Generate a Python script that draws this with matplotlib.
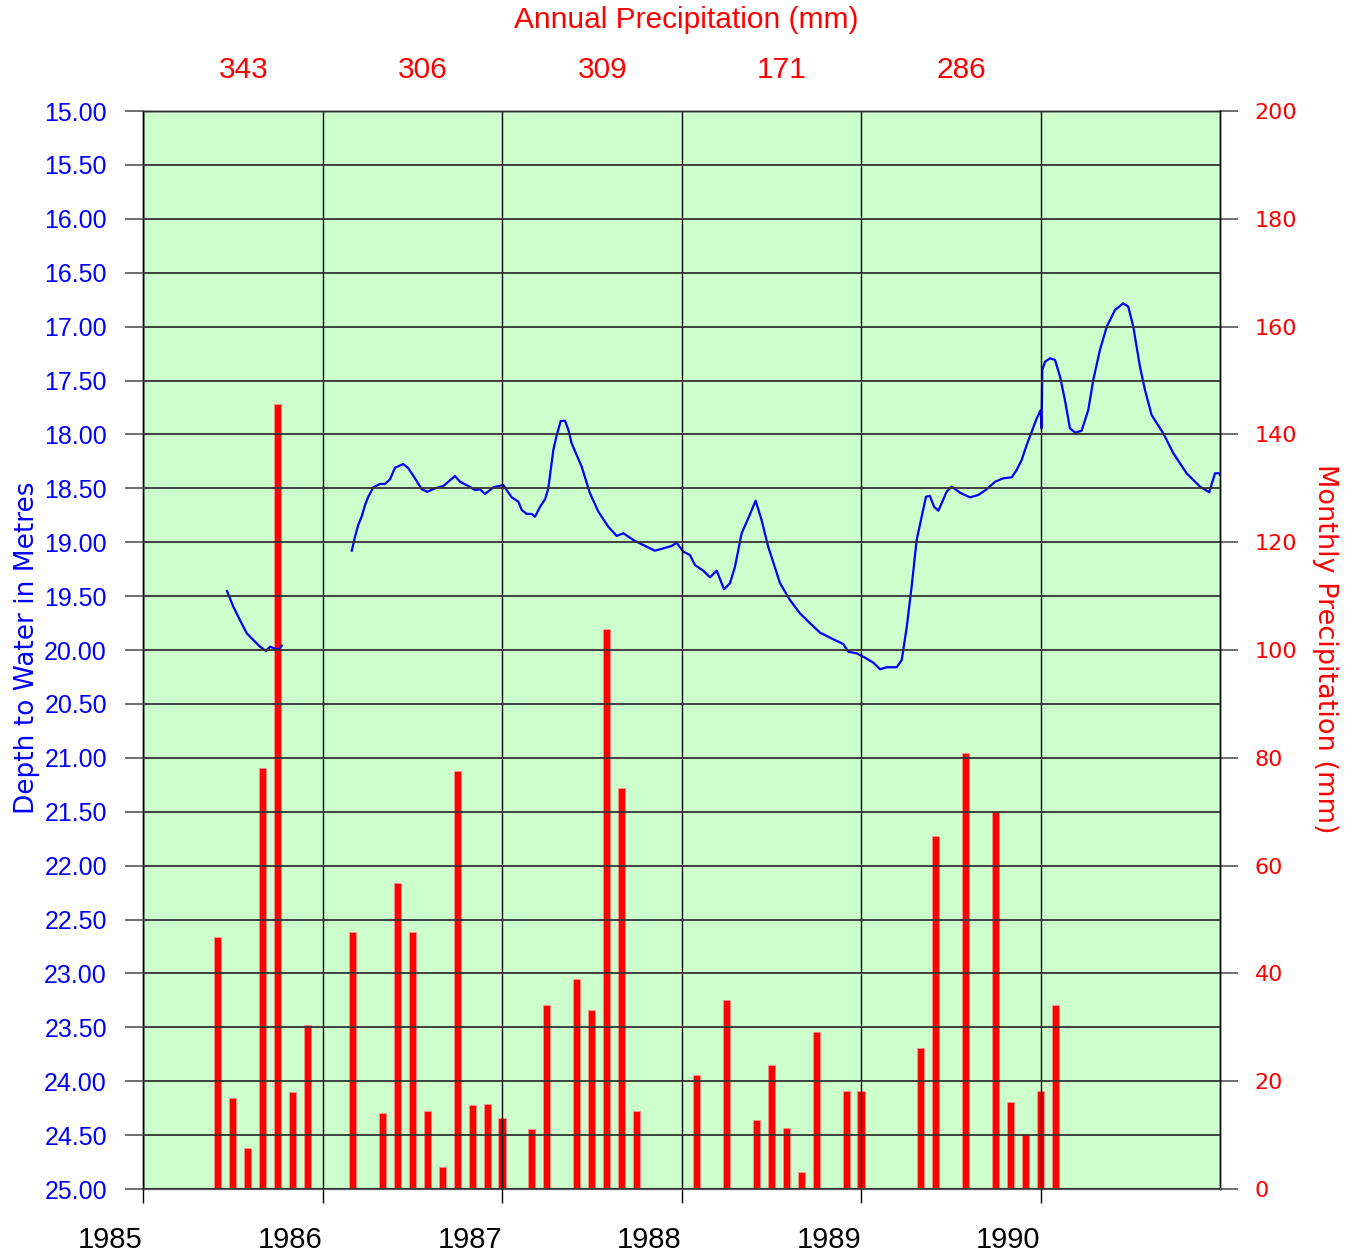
import numpy as np
import matplotlib
matplotlib.use("Agg")
import matplotlib.pyplot as plt
import matplotlib.transforms as mtransforms

# Monthly precipitation (mm), Jan 1985 .. Jan 1990, plotted at the end of each month
precip_mm = [
    0, 0, 0, 0, 46.8, 16.9, 7.6, 78.1, 145.6, 18.0, 30.4, 0,          # 1985
    0, 47.7, 0, 14.1, 56.8, 47.7, 14.5, 4.1, 77.5, 15.6, 15.8, 13.2,  # 1986
    0, 11.1, 34.1, 0, 39.0, 33.2, 103.9, 74.4, 14.5, 0, 0, 0,          # 1987
    21.2, 0, 35.1, 0, 12.8, 23.0, 11.3, 3.2, 29.1, 0, 18.2, 18.2,      # 1988
    0, 0, 0, 26.2, 65.5, 0, 80.9, 0, 69.9, 16.1, 10.2, 18.2,           # 1989
    34.1,                                                              # 1990
]

years = [1985, 1986, 1987, 1988, 1989, 1990]
annual_years = [1985, 1986, 1987, 1988, 1989]
annual_totals = [343, 306, 309, 171, 286]

# Depth to water (m) from the logger, decimal years; nan marks the gap in record
level_dates = [
    1985.468, 1985.503, 1985.540, 1985.578, 1985.624, 1985.652, 1985.685,
    1985.708, 1985.735, 1985.754, 1985.773,
    np.nan,
    1986.163, 1986.181, 1986.199, 1986.218, 1986.237, 1986.255, 1986.283,
    1986.320, 1986.348, 1986.376, 1986.404, 1986.450, 1986.478, 1986.515,
    1986.553, 1986.584, 1986.627, 1986.673, 1986.701, 1986.738, 1986.766,
    1986.812, 1986.850, 1986.877, 1986.905, 1986.952, 1987.007, 1987.026,
    1987.054, 1987.091, 1987.110, 1987.138, 1987.165, 1987.184, 1987.212,
    1987.240, 1987.258, 1987.286, 1987.305, 1987.327, 1987.351, 1987.370,
    1987.388, 1987.444, 1987.490, 1987.537, 1987.592, 1987.639, 1987.676,
    1987.732, 1987.787, 1987.852, 1987.899, 1987.945, 1987.973, 1988.010,
    1988.047, 1988.075, 1988.121, 1988.159, 1988.196, 1988.237, 1988.270,
    1988.298, 1988.335, 1988.372, 1988.413, 1988.446, 1988.483, 1988.549,
    1988.604, 1988.660, 1988.716, 1988.772, 1988.846, 1988.901, 1988.929,
    1988.976, 1989.013, 1989.069, 1989.106, 1989.143, 1989.199, 1989.227,
    1989.255, 1989.282, 1989.310, 1989.338, 1989.362, 1989.384, 1989.407,
    1989.431, 1989.449, 1989.477, 1989.505, 1989.552, 1989.607, 1989.654,
    1989.700, 1989.747, 1989.793, 1989.840, 1989.867, 1989.895, 1989.923,
    1989.951, 1989.979, 1990.001, 1990.006, 1990.010, 1990.025, 1990.053,
    1990.081, 1990.109, 1990.136, 1990.164, 1990.192, 1990.229, 1990.266,
    1990.294, 1990.331, 1990.369, 1990.415, 1990.461, 1990.489, 1990.517,
    1990.554, 1990.582, 1990.619, 1990.684, 1990.740, 1990.814, 1990.889,
    1990.940, 1990.972, 1990.996, 1991.015,
]
level_depths = [
    19.453, 19.598, 19.722, 19.845, 19.923, 19.969, 20.009,
    19.969, 19.988, 19.994, 19.960,
    np.nan,
    19.079, 18.949, 18.840, 18.763, 18.655, 18.578, 18.491,
    18.460, 18.460, 18.417, 18.309, 18.275, 18.314, 18.407,
    18.509, 18.532, 18.500, 18.479, 18.439, 18.386, 18.439,
    18.479, 18.516, 18.509, 18.553, 18.491, 18.469, 18.516,
    18.584, 18.624, 18.701, 18.738, 18.738, 18.763, 18.671,
    18.602, 18.500, 18.145, 18.006, 17.876, 17.873, 17.959,
    18.083, 18.300, 18.546, 18.717, 18.856, 18.942, 18.917,
    18.980, 19.026, 19.079, 19.057, 19.035, 19.005, 19.088,
    19.119, 19.212, 19.264, 19.326, 19.264, 19.437, 19.381,
    19.227, 18.917, 18.778, 18.615, 18.794, 19.042, 19.381,
    19.536, 19.660, 19.752, 19.839, 19.901, 19.944, 20.016,
    20.031, 20.062, 20.118, 20.179, 20.160, 20.160, 20.093,
    19.784, 19.413, 18.980, 18.763, 18.578, 18.571, 18.671,
    18.708, 18.639, 18.532, 18.485, 18.541, 18.584, 18.562,
    18.509, 18.439, 18.407, 18.398, 18.330, 18.237, 18.098,
    17.975, 17.851, 17.774, 17.943, 17.403, 17.326, 17.294,
    17.310, 17.465, 17.681, 17.943, 17.984, 17.966, 17.774,
    17.495, 17.217, 17.001, 16.846, 16.784, 16.815, 17.001,
    17.372, 17.588, 17.820, 17.990, 18.175, 18.361, 18.485,
    18.537, 18.361, 18.361, 18.417,
]

bar_x = 1985 + (np.arange(len(precip_mm)) + 1) / 12.0

W, H = 1355, 1258
fig = plt.figure(figsize=(W / 100, H / 100), dpi=100)
rect = [143 / W, 1 - 1189 / H, (1220 - 143) / W, (1189 - 111) / H]

# precipitation axis underneath, depth axis on top (transparent) so the line and grid sit over the bars
ax2 = fig.add_axes(rect)
ax = fig.add_axes(rect, sharex=ax2)
ax.patch.set_visible(False)
ax2.set_facecolor("#ccffcc")

ax2.bar(bar_x, precip_mm, width=0.039, color="#ff0000", edgecolor="#ff9090", linewidth=0.6)
ax2.set_ylim(0, 200)
ax2.set_yticks(np.arange(0, 201, 20))
ax2.yaxis.tick_right()
ax2.tick_params(axis="y", labelsize=16, length=13, width=1.2, pad=12,
                color="#555555", labelcolor="#ff0000")
ax2.tick_params(axis="x", bottom=False, labelbottom=False)

ax.plot(level_dates, level_depths, color="#0000ff", linewidth=1.6)
ax.set_ylim(25, 15)
ax.set_yticks(np.arange(15, 25.01, 0.5))
ax.set_yticklabels([f"{v:.2f}" for v in np.arange(15, 25.01, 0.5)],
                   fontfamily=["Liberation Sans", "DejaVu Sans"])
ax.tick_params(axis="y", labelsize=18, labelcolor="#0000ff", color="#555555",
               length=13, width=1.2, pad=13)

ax.set_xlim(1985, 1991)
ax.set_xticks(years)
ax.set_xticklabels([str(y) for y in years],
                   fontfamily=["Liberation Sans Narrow", "Liberation Sans", "DejaVu Sans"])
ax.tick_params(axis="x", labelsize=21, length=10, width=1.0, color="black", pad=17)
for lbl in ax.get_xticklabels():
    lbl.set_horizontalalignment("right")

ax.grid(True, color="black", linewidth=1.0)
ax.grid(True, axis="y", color="#333333", linewidth=1.3)
ax.set_axisbelow(False)

for a in (ax, ax2):
    for side in ("left", "right", "top"):
        a.spines[side].set_color("black")
        a.spines[side].set_linewidth(1.0)
    a.spines["bottom"].set_color("#555555")
    a.spines["bottom"].set_linewidth(1.5)

# axis titles
fig.text(27 / W, 1 - 648 / H, "Depth to Water in Metres", rotation=90,
         ha="center", va="center", color="#0000ff", fontsize=19)
fig.text(1325 / W, 1 - 649 / H, "Monthly Precipitation (mm)", rotation=270,
         ha="center", va="center", color="#ff0000", fontsize=19.5)

# annual totals above the plot
trans = mtransforms.blended_transform_factory(ax.transData, ax.transAxes)
for yr, total in zip(annual_years, annual_totals):
    ax.text(yr + 0.56, 1.038, str(total), transform=trans, ha="center", va="center",
            color="#ff0000", fontsize=21.5, fontfamily=["Liberation Sans", "DejaVu Sans"])
fig.text(686 / W, 1 - 20 / H, "Annual Precipitation (mm)", ha="center", va="center",
         color="#ff0000", fontsize=21.5, fontfamily=["Liberation Sans", "DejaVu Sans"])

fig.savefig("out.png", dpi=100)
